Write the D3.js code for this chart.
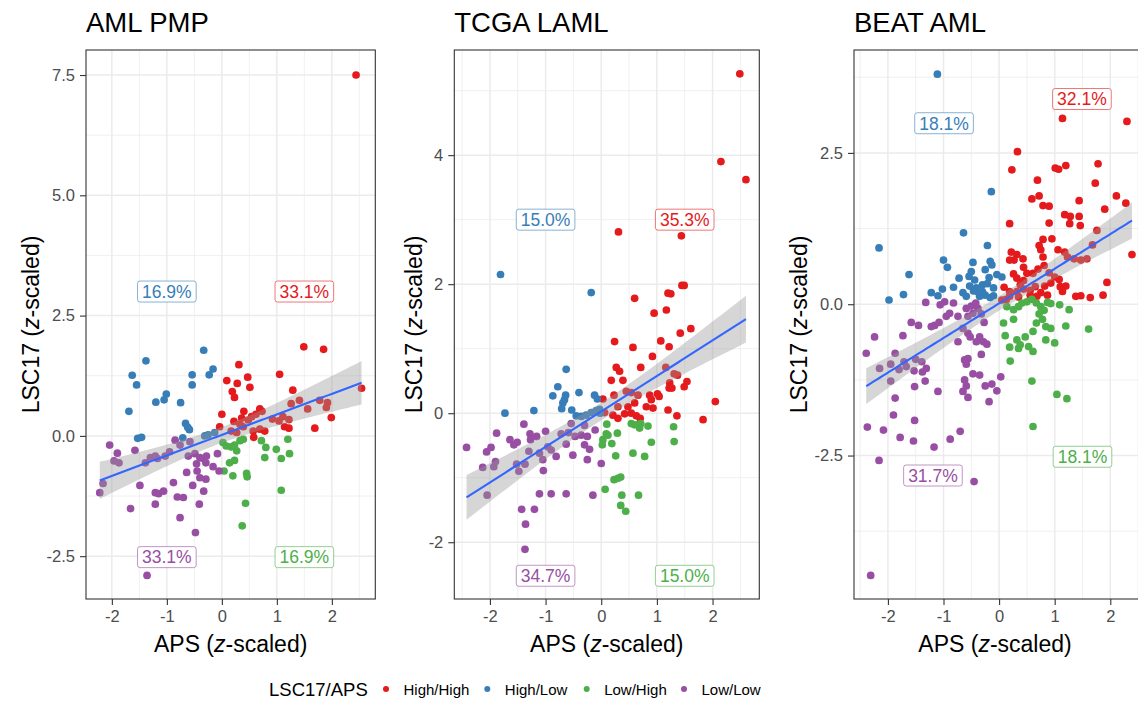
<!DOCTYPE html>
<head>
<meta charset="utf-8">
<title>LSC17 vs APS</title>
<script type="text/javascript" src="https://d3js.org/d3.v7.min.js"></script>
<style>
    body { margin: 0; background: #fff; }
    text { font-family: "Liberation Sans", Arial, sans-serif; }
    .axis path { display: none; }
    .axis line { stroke: #333333; stroke-width: 1.1; }
    .axis text { fill: #4D4D4D; font-size: 16.5px; }
    .grid-major { stroke: #EBEBEB; stroke-width: 1.5; }
    .grid-minor { stroke: #EBEBEB; stroke-width: 0.75; }
</style>
</head>
<body>
<div id="container"></div>
<script>
//----------------------------- DATA -----------------------------//
const groups = ["High/High", "High/Low", "Low/High", "Low/Low"];
const groupColors = ["#E41A1C", "#377EB8", "#4DAF4A", "#984EA3"];
const xTicks = [-2, -1, 0, 1, 2];

// AML PMP  [APS, LSC17]
const pmpHighHigh = [[2.44,7.50],[1.49,1.85],[1.85,1.80],[0.31,1.48],[0.47,1.22],[0.09,1.15],[0.28,1.09],[0.51,1.01],[1.05,1.28],[0.19,0.92],[0.23,0.80],[1.29,0.95],[2.54,0.99],[1.26,0.67],[1.41,0.74],[1.78,0.74],[1.92,0.69],[1.90,0.59],[1.56,0.56],[0.40,0.51],[0.69,0.56],[0.73,0.51],[0.00,0.45],[0.54,0.40],[0.92,0.35],[1.04,0.31],[1.22,0.34],[1.99,0.38],[0.22,0.30],[0.33,0.24],[0.39,0.19],[-0.04,0.19],[1.14,0.19],[1.22,0.16],[1.69,0.16],[0.17,0.10],[0.27,0.07],[0.57,0.10],[0.58,-0.03],[0.69,0.14],[0.78,0.10],[0.62,0.45],[0.48,0.33],[1.11,0.40],[0.36,0.37]];
const pmpHighLow = [[-0.33,1.78],[-1.38,1.56],[-1.63,1.26],[-1.55,1.06],[-0.54,1.27],[-0.54,1.06],[-0.16,1.39],[-0.23,1.27],[-1.01,0.87],[-1.05,0.75],[-1.20,0.70],[-0.75,0.69],[-1.69,0.51],[-0.66,0.26],[-0.59,0.13],[-0.71,-0.04],[-1.46,-0.03],[-1.53,-0.05],[-0.31,0.00],[-0.13,0.07],[-0.62,0.18],[-0.25,0.02]];
const pmpLowHigh = [[0.02,-0.14],[0.08,-0.21],[0.17,-0.23],[0.23,-0.19],[0.33,-0.10],[0.39,-0.07],[0.27,-0.31],[0.72,-0.10],[0.80,-0.24],[0.99,-0.28],[1.20,-0.07],[1.23,-0.37],[1.08,-0.47],[0.78,-0.45],[0.23,-0.51],[0.14,-0.56],[0.04,-0.73],[0.20,-0.83],[0.45,-0.78],[0.46,-0.85],[1.08,-1.13],[0.43,-1.40],[0.37,-1.87]];
const pmpLowLow = [[-2.04,-0.19],[-1.90,-0.36],[-1.96,-0.52],[-1.87,-0.56],[-1.58,-0.30],[-2.22,-1.18],[-2.16,-0.99],[-1.49,-1.03],[-1.66,-1.51],[-1.30,-0.45],[-1.21,-0.42],[-1.17,-0.47],[-1.03,-0.42],[-0.95,-0.33],[-1.39,-0.56],[-0.85,-0.09],[-0.76,-0.19],[-0.58,-0.12],[-0.61,-0.42],[-0.49,-0.37],[-0.40,-0.45],[-0.34,-0.47],[-0.28,-0.42],[-0.29,-0.56],[-0.46,-0.58],[-0.08,-0.37],[-0.16,-0.64],[-0.05,-0.73],[-0.64,-0.76],[-0.45,-0.73],[-0.40,-0.87],[-0.29,-0.90],[-0.53,-1.03],[-0.33,-1.15],[-0.88,-0.97],[-1.21,-1.18],[-1.15,-1.20],[-1.06,-1.15],[-0.81,-1.27],[-0.70,-1.28],[-1.21,-1.42],[-0.41,-1.42],[-0.76,-1.70],[-0.48,-2.01],[-1.36,-2.90]];
const pmpYTicks = [-2.5, 0, 2.5, 5, 7.5];
const pmpLabels = ["33.1%", "16.9%", "16.9%", "33.1%"];
const pmpLabelPos = [[1.5, 3.0], [-1.0, 3.0], [1.5, -2.52], [-1.0, -2.52]];

// TCGA LAML
const tcgaHighHigh = [[2.49,5.26],[2.15,3.90],[2.60,3.62],[0.31,2.81],[1.44,2.75],[1.45,1.98],[1.49,1.98],[1.20,1.86],[1.25,1.85],[0.60,1.78],[0.95,1.55],[1.17,1.60],[1.61,1.31],[1.42,1.24],[0.24,1.11],[0.57,1.02],[1.07,1.12],[1.22,1.03],[0.92,0.88],[0.71,0.71],[0.27,0.71],[0.33,0.65],[1.16,0.71],[0.18,0.51],[0.39,0.51],[1.31,0.61],[1.37,0.59],[1.23,0.47],[1.22,0.39],[1.27,0.39],[1.54,0.49],[1.49,0.41],[0.23,0.28],[0.03,0.22],[0.45,0.34],[0.54,0.32],[0.66,0.28],[0.60,0.16],[0.48,0.10],[0.87,0.28],[1.01,0.30],[1.04,0.26],[0.90,0.21],[0.81,0.10],[0.93,0.08],[0.30,0.10],[0.06,0.01],[0.21,-0.03],[0.30,-0.08],[0.42,-0.01],[0.54,0.00],[0.63,-0.04],[0.70,-0.08],[1.20,0.05],[1.36,-0.04],[2.05,0.18],[1.83,-0.10]];
const tcgaHighLow = [[-1.81,2.15],[-0.18,1.87],[-0.63,0.68],[-0.78,0.41],[-0.87,0.27],[-0.64,0.28],[-0.66,0.21],[-0.69,0.16],[-0.71,0.07],[-0.40,0.32],[-0.53,0.05],[-0.45,-0.04],[-0.36,-0.05],[-0.27,-0.03],[-0.18,0.01],[-0.09,0.04],[-0.03,0.06],[-0.12,0.28],[-0.07,0.22],[-1.73,0.00],[-1.21,0.04],[-0.02,0.00]];
const tcgaLowHigh = [[0.10,-0.17],[0.12,-0.34],[0.09,-0.32],[0.03,-0.41],[0.02,-0.49],[0.29,-0.31],[0.19,-0.47],[0.26,-0.66],[0.54,-0.16],[0.60,-0.18],[0.66,-0.18],[0.69,-0.23],[0.71,-0.16],[0.84,-0.20],[1.30,-0.21],[1.31,-0.44],[0.90,-0.45],[0.57,-0.62],[0.78,-0.67],[0.23,-1.03],[0.30,-1.01],[0.35,-0.99],[0.07,-1.18],[0.37,-1.27],[0.67,-1.27],[0.35,-1.43],[0.44,-1.52]];
const tcgaLowLow = [[-2.42,-0.53],[-2.13,-0.84],[-2.06,-0.60],[-1.98,-0.53],[-1.88,-0.31],[-1.90,-0.75],[-1.93,-0.83],[-2.05,-1.27],[-1.64,-0.41],[-1.57,-0.49],[-1.51,-0.45],[-1.39,-0.17],[-1.28,-0.32],[-1.16,-0.36],[-1.27,-0.41],[-1.00,-0.28],[-1.52,-0.79],[-1.48,-0.90],[-1.37,-0.79],[-1.30,-0.59],[-1.11,-0.62],[-1.05,-0.72],[-1.04,-0.89],[-0.96,-0.52],[-0.90,-0.57],[-0.81,-0.67],[-0.72,-0.32],[-0.63,-0.48],[-0.59,-0.30],[-0.51,-0.65],[-0.54,-0.16],[-0.47,-0.36],[-0.36,-0.34],[-0.30,-0.49],[-0.25,-0.36],[-0.21,-0.56],[-0.30,-0.19],[-0.11,-0.26],[-0.25,-0.72],[0.00,-0.78],[-0.15,-1.27],[-1.11,-1.25],[-0.90,-1.25],[-0.63,-1.25],[-1.43,-1.49],[-1.20,-1.49],[-1.36,-1.72],[-1.37,-2.11]];
const tcgaYTicks = [-2, 0, 2, 4];
const tcgaLabels = ["35.3%", "15.0%", "15.0%", "34.7%"];
const tcgaLabelPos = [[1.5, 3.0], [-1.0, 3.0], [1.5, -2.52], [-1.0, -2.52]];

// BEAT AML
const beatHighHigh = [[1.14,3.07],[2.30,3.02],[0.33,2.52],[0.23,2.22],[1.01,2.25],[1.07,2.23],[1.20,2.29],[1.78,2.32],[0.69,2.05],[1.73,2.00],[0.72,1.79],[0.59,1.74],[2.11,1.79],[1.44,1.71],[2.28,1.67],[0.79,1.63],[0.90,1.62],[1.90,1.57],[1.18,1.48],[1.28,1.45],[1.44,1.45],[1.27,1.33],[1.46,1.30],[0.19,1.33],[0.90,1.34],[1.76,1.22],[0.79,1.07],[0.95,1.08],[0.72,0.97],[0.75,0.90],[1.06,0.90],[1.18,0.86],[1.68,0.98],[0.22,0.86],[0.32,0.82],[0.27,0.73],[0.43,0.75],[0.19,0.73],[0.79,0.78],[0.81,0.64],[1.23,0.78],[1.35,0.75],[1.47,0.73],[1.58,0.75],[2.39,0.82],[0.44,0.61],[0.50,0.51],[0.61,0.51],[0.70,0.58],[0.26,0.50],[0.32,0.43],[0.44,0.39],[0.38,0.32],[0.90,0.52],[1.00,0.45],[1.08,0.41],[0.93,0.35],[1.10,0.29],[1.20,0.30],[1.14,0.21],[0.09,0.28],[0.19,0.21],[0.32,0.21],[0.44,0.25],[0.56,0.23],[0.65,0.29],[0.75,0.19],[0.87,0.15],[0.68,0.13],[0.56,0.15],[0.82,0.30],[0.05,0.07],[0.13,0.08],[1.38,0.13],[1.47,0.14],[1.64,0.11],[1.87,0.15],[1.94,0.36],[0.19,0.13],[0.35,0.12]];
const beatHighLow = [[-1.11,3.80],[-0.14,1.86],[-2.16,0.93],[-0.64,1.18],[-0.21,0.97],[-1.00,0.73],[-0.93,0.61],[-1.62,0.49],[-0.47,0.69],[-0.25,0.57],[-0.16,0.71],[-0.13,0.65],[-0.18,0.44],[-0.04,0.49],[0.05,0.45],[-0.72,0.43],[-0.54,0.46],[-0.50,0.54],[-0.44,0.40],[-0.53,0.30],[-0.41,0.27],[-0.30,0.32],[-0.21,0.34],[-0.10,0.27],[-0.82,0.28],[-1.02,0.25],[-1.22,0.19],[-1.10,0.14],[-1.72,0.16],[-1.98,0.07],[-0.65,0.19],[-0.59,0.13],[-0.35,0.13],[-0.25,0.15],[-0.16,0.11],[-0.10,0.14],[-0.30,0.21],[-0.38,0.20],[-0.46,0.22]];
const beatLowHigh = [[0.14,-0.04],[0.26,-0.09],[0.35,-0.04],[0.41,0.02],[0.50,0.04],[0.59,0.08],[0.08,-0.31],[0.26,-0.25],[0.67,0.02],[0.75,-0.04],[0.81,-0.10],[0.87,0.03],[0.93,0.01],[0.72,-0.16],[0.67,-0.31],[0.78,-0.25],[0.84,-0.37],[0.93,-0.40],[0.61,-0.45],[0.11,-0.52],[0.32,-0.59],[0.38,-0.67],[0.47,-0.54],[0.19,-0.71],[0.35,-0.73],[0.53,-0.70],[0.61,-0.78],[0.84,-0.59],[1.00,-0.64],[1.09,-0.01],[1.26,-0.09],[1.20,-0.36],[1.61,-0.41],[0.20,-0.94],[0.59,-1.27],[1.04,-1.49],[1.22,-1.56],[0.61,-2.02]];
const beatLowLow = [[-1.32,0.03],[-1.06,-0.01],[-0.98,0.04],[-0.82,0.02],[-0.89,-0.15],[-0.95,-0.20],[-1.08,-0.30],[-0.74,-0.20],[-1.22,-0.37],[-1.16,-0.35],[-1.58,-0.30],[-1.45,-0.35],[-1.73,-0.52],[-2.24,-0.54],[-2.39,-0.81],[-0.59,-0.07],[-0.50,-0.03],[-0.42,0.02],[-0.38,-0.07],[-0.47,-0.15],[-0.32,-0.16],[-0.27,-0.30],[-0.56,-0.20],[-0.65,-0.40],[-0.56,-0.48],[-0.52,-0.54],[-0.35,-0.54],[-0.41,-0.62],[-0.28,-0.62],[-0.22,-0.66],[-0.74,-0.62],[-0.32,-0.83],[-0.62,-0.92],[-0.56,-0.90],[-0.59,-0.99],[-1.87,-0.81],[-1.95,-0.99],[-2.15,-1.06],[-1.80,-1.08],[-1.71,-0.95],[-1.67,-1.03],[-1.50,-0.91],[-1.39,-0.95],[-1.31,-1.06],[-1.38,-1.12],[-1.53,-1.10],[-1.95,-1.27],[-1.33,-1.27],[-1.52,-1.36],[-1.10,-1.44],[-1.87,-1.55],[-1.90,-1.83],[-1.52,-1.92],[-0.47,-1.15],[-0.35,-1.17],[-0.62,-1.25],[-0.59,-1.35],[-0.65,-1.44],[-0.56,-1.54],[-0.25,-1.35],[-0.13,-1.32],[-0.04,-1.43],[0.03,-1.20],[-0.18,-1.61],[-2.37,-2.03],[-2.08,-2.08],[-1.78,-2.20],[-1.54,-2.26],[-1.17,-2.36],[-0.88,-2.23],[-0.70,-2.10],[-2.16,-2.58],[-0.45,-2.93],[-2.31,-4.48]];
const beatYTicks = [-2.5, 0, 2.5];
const beatLabels = ["32.1%", "18.1%", "18.1%", "31.7%"];
const beatLabelPos = [[1.49, 3.39], [-0.99, 2.99], [1.50, -2.52], [-1.19, -2.83]];

//--------------------------- LAYOUT ---------------------------//
const W = 1138, H = 702;
const plotTop = 50, plotBottom = 599;
const panels = [
    {title: "AML PMP", sets: [pmpHighHigh, pmpHighLow, pmpLowHigh, pmpLowLow], labels: pmpLabels, labelPos: pmpLabelPos,
     yTicks: pmpYTicks, yFmt: d => d.toFixed(1), xDomain: [-2.47, 2.79], yDomain: [-3.39, 8.02], left: 86, right: 375.3, yTitleX: 39},
    {title: "TCGA LAML", sets: [tcgaHighHigh, tcgaHighLow, tcgaLowHigh, tcgaLowLow], labels: tcgaLabels, labelPos: tcgaLabelPos,
     yTicks: tcgaYTicks, yFmt: d => String(d), xDomain: [-2.64, 2.84], yDomain: [-2.88, 5.63], left: 454.3, right: 759.3, yTitleX: 422},
    {title: "BEAT AML", sets: [beatHighHigh, beatHighLow, beatLowHigh, beatLowLow], labels: beatLabels, labelPos: beatLabelPos,
     yTicks: beatYTicks, yFmt: d => d.toFixed(1), xDomain: [-2.61, 2.63], yDomain: [-4.87, 4.20], left: 854, right: 1145.3, yTitleX: 807}
];

const svg = d3.select("#container").append("svg")
    .attr("width", W).attr("height", H);

// minor breaks: halfway between majors, one step past each end
function minorBreaks(ticks, domain) {
    const step = ticks[1] - ticks[0];
    const ext = [ticks[0] - step].concat(ticks, [ticks[ticks.length - 1] + step]);
    const out = [];
    for (let i = 0; i < ext.length - 1; i++) out.push((ext[i] + ext[i + 1]) / 2);
    return out.filter(v => v >= domain[0] && v <= domain[1]);
}

// lm fit with 95% CI, like geom_smooth(method = "lm")
function lmFit(pts) {
    const n = pts.length;
    const mx = d3.mean(pts, d => d[0]), my = d3.mean(pts, d => d[1]);
    let sxx = 0, sxy = 0;
    pts.forEach(d => { sxx += (d[0] - mx) ** 2; sxy += (d[0] - mx) * (d[1] - my); });
    const b = sxy / sxx, a = my - b * mx;
    let ss = 0;
    pts.forEach(d => { ss += (d[1] - a - b * d[0]) ** 2; });
    const s = Math.sqrt(ss / (n - 2)), t = 1.97;
    const [x0, x1] = d3.extent(pts, d => d[0]);
    return d3.range(80).map(i => {
        const x = x0 + (x1 - x0) * i / 79;
        const se = s * Math.sqrt(1 / n + (x - mx) ** 2 / sxx);
        const y = a + b * x;
        return {x: x, y: y, lo: y - t * se, hi: y + t * se};
    });
}

panels.forEach(p => {
    const x = d3.scaleLinear().domain(p.xDomain).range([p.left, p.right]);
    const y = d3.scaleLinear().domain(p.yDomain).range([plotBottom, plotTop]);
    const g = svg.append("g");

    // grid
    g.selectAll(".gx-minor").data(minorBreaks(xTicks, p.xDomain)).enter().append("line")
        .attr("class", "grid-minor").attr("x1", d => x(d)).attr("x2", d => x(d)).attr("y1", plotTop).attr("y2", plotBottom);
    g.selectAll(".gy-minor").data(minorBreaks(p.yTicks, p.yDomain)).enter().append("line")
        .attr("class", "grid-minor").attr("y1", d => y(d)).attr("y2", d => y(d)).attr("x1", p.left).attr("x2", p.right);
    g.selectAll(".gx-major").data(xTicks).enter().append("line")
        .attr("class", "grid-major").attr("x1", d => x(d)).attr("x2", d => x(d)).attr("y1", plotTop).attr("y2", plotBottom);
    g.selectAll(".gy-major").data(p.yTicks).enter().append("line")
        .attr("class", "grid-major").attr("y1", d => y(d)).attr("y2", d => y(d)).attr("x1", p.left).attr("x2", p.right);

    // points
    p.sets.forEach((set, gi) => {
        g.selectAll(null).data(set).enter().append("circle")
            .attr("cx", d => x(d[0])).attr("cy", d => y(d[1])).attr("r", 3.85)
            .style("fill", groupColors[gi]);
    });

    // regression line + band
    const fit = lmFit([].concat(...p.sets));
    g.append("path").datum(fit)
        .attr("d", d3.area().x(d => x(d.x)).y0(d => y(d.lo)).y1(d => y(d.hi)))
        .style("fill", "#999999").style("fill-opacity", 0.4);
    g.append("path").datum(fit)
        .attr("d", d3.line().x(d => x(d.x)).y(d => y(d.y)))
        .style("fill", "none").style("stroke", "#3366FF").style("stroke-width", 2.1);

    // percentage labels
    p.labels.forEach((lab, gi) => {
        const cx = x(p.labelPos[gi][0]), cy = y(p.labelPos[gi][1]);
        const lg = g.append("g");
        const txt = lg.append("text").attr("x", cx).attr("y", cy).attr("dy", "0.36em")
            .attr("text-anchor", "middle").style("font-size", "17.5px").style("fill", groupColors[gi]).text(lab);
        const w = txt.node().getComputedTextLength() + 9;
        lg.insert("rect", "text").attr("x", cx - w / 2).attr("y", cy - 10.5).attr("width", w).attr("height", 21)
            .attr("rx", 2.5).style("fill", "#fff").style("stroke", groupColors[gi])
            .style("stroke-opacity", 0.6).style("stroke-width", 1);
    });

    // frame
    g.append("rect").attr("x", p.left).attr("y", plotTop).attr("width", p.right - p.left).attr("height", plotBottom - plotTop)
        .style("fill", "none").style("stroke", "#333333").style("stroke-width", 1.1);

    // axes
    g.append("g").attr("class", "axis").attr("transform", "translate(0," + plotBottom + ")")
        .call(d3.axisBottom(x).tickValues(xTicks).tickFormat(d => String(d)).tickSize(6).tickPadding(5));
    g.append("g").attr("class", "axis").attr("transform", "translate(" + p.left + ",0)")
        .call(d3.axisLeft(y).tickValues(p.yTicks).tickFormat(p.yFmt).tickSize(6).tickPadding(5));

    // titles
    g.append("text").attr("x", p.left).attr("y", 32).style("font-size", "27.5px").style("fill", "#000").text(p.title);
    const xt = g.append("text").attr("x", (p.left + Math.min(p.right, 1136)) / 2).attr("y", 652)
        .attr("text-anchor", "middle").style("font-size", "23px").style("fill", "#000");
    xt.append("tspan").text("APS (");
    xt.append("tspan").style("font-style", "italic").text("z");
    xt.append("tspan").text("-scaled)");
    const yt = g.append("text").attr("transform", "translate(" + p.yTitleX + "," + ((plotTop + plotBottom) / 2) + ") rotate(-90)")
        .attr("text-anchor", "middle").style("font-size", "23px").style("fill", "#000");
    yt.append("tspan").text("LSC17 (");
    yt.append("tspan").style("font-style", "italic").text("z");
    yt.append("tspan").text("-scaled)");
});

//--Legend--//
const legend = svg.append("g");
legend.append("text").attr("x", 269).attr("y", 696).style("font-size", "18.5px").text("LSC17/APS");
const legX = [386, 487.3, 586.7, 684];
groups.forEach((gname, i) => {
    legend.append("circle").attr("cx", legX[i]).attr("cy", 689).attr("r", 3).style("fill", groupColors[i]);
    legend.append("text").attr("x", legX[i] + 17.5).attr("y", 694.5).style("font-size", "15px").text(gname);
});
</script>
</body>
